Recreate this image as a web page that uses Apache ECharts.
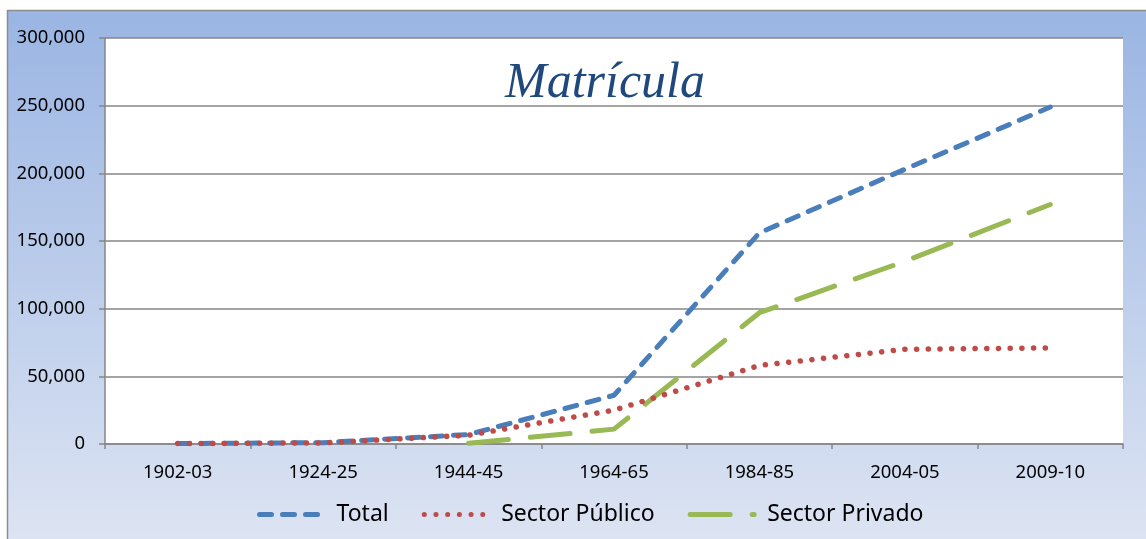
<!DOCTYPE html>
<html><head><meta charset="utf-8">
<script src="https://cdn.jsdelivr.net/npm/echarts@6/dist/echarts.min.js"></script>
<style>html,body{margin:0;padding:0;background:#fff}#c{width:1146px;height:539px}</style>
</head><body><div id="c"></div>
<script>
const categories = ['1902-03','1924-25','1944-45','1964-65','1984-85','2004-05','2009-10'];
const total = [300, 1000, 7000, 36000, 156000, 203000, 249000];
const publico = [300, 800, 6500, 25000, 58000, 70000, 71000];
const privado = [null, null, 500, 11000, 97000, 135000, 177000];
const seriesNames = ['Total','Sector Público','Sector Privado'];

const chart = echarts.init(document.getElementById('c'));
const font = '"Noto Sans", "Open Sans", sans-serif';
chart.setOption({
  animation: false,
  graphic: [{
    type: 'rect', z: -10, silent: true,
    shape: {x: 7.5, y: 10.5, width: 1150, height: 540},
    style: {
      fill: new echarts.graphic.LinearGradient(0,0,0,1,[{offset:0,color:'#9AB5E3'},{offset:1,color:'#DEE5F3'}]),
      stroke: '#8C8C8C', lineWidth: 1.5
    }
  }, {
    type: 'rect', z: -9, silent: true,
    shape: {x: 105, y: 38, width: 1018, height: 406},
    style: {fill: '#fff'}
  }],
  title: {
    text: 'Matrícula', left: 600, top: 54, textAlign: 'center',
    textStyle: {fontFamily: '"Liberation Serif", serif', fontStyle: 'italic', fontWeight: 'normal', fontSize: 50, color: '#1F497D'}
  },
  legend: {
    top: 498, left: 252, itemWidth: 64, itemHeight: 14, itemGap: 33,
    textStyle: {fontFamily: font, fontSize: 23, color: '#000', padding: [0, 0, 0, 8]},
    itemStyle: {opacity: 0},
    lineStyle: {width: 5},
    data: seriesNames
  },
  grid: {left: 105, right: 23, top: 38, bottom: 95},
  xAxis: {
    type: 'category', data: categories, boundaryGap: true,
    axisLine: {lineStyle: {color: '#868686', width: 1.5}},
    axisTick: {show: true, length: 5, lineStyle: {color: '#868686', width: 1.5}},
    axisLabel: {fontFamily: font, fontSize: 18.5, color: '#000', margin: 19}
  },
  yAxis: {
    type: 'value', min: 0, max: 300000, interval: 50000,
    axisLine: {show: true, lineStyle: {color: '#868686', width: 1.5}},
    axisTick: {show: true, length: 6, lineStyle: {color: '#868686', width: 1.5}},
    splitLine: {lineStyle: {color: '#868686', width: 1.5}},
    axisLabel: {fontFamily: font, fontSize: 18.5, color: '#000', margin: 20,
      formatter: v => v.toLocaleString('en-US')}
  },
  series: [
    {name: seriesNames[0], type: 'line', data: total, symbol: 'none', z: 3,
     lineStyle: {color: '#4A7EBB', width: 5, type: [12, 11], cap: 'round'}, itemStyle: {color: '#4A7EBB'}},
    {name: seriesNames[1], type: 'line', data: publico, symbol: 'none', z: 4,
     lineStyle: {color: '#BE4B48', width: 5.5, type: [0.1, 11.6], cap: 'round'}, itemStyle: {color: '#BE4B48'}},
    {name: seriesNames[2], type: 'line', data: privado, symbol: 'none', z: 2,
     lineStyle: {color: '#98B954', width: 5, type: [40, 22], cap: 'round'}, itemStyle: {color: '#98B954'}}
  ]
});
</script></body></html>
